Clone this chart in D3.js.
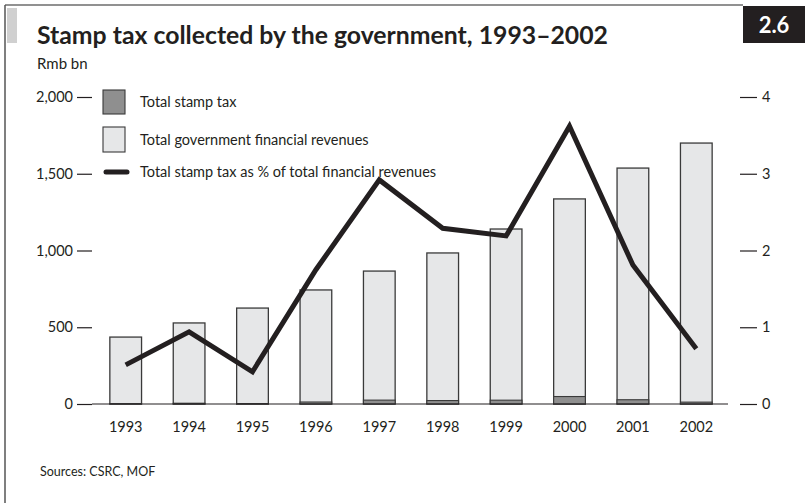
<!DOCTYPE html>
<html>
<head>
<meta charset="utf-8">
<script src="https://cdn.jsdelivr.net/npm/d3@7"></script>
<style>
  html, body { margin: 0; padding: 0; background: #fff; }
  svg { display: block; font-family: Lato, "Open Sans", sans-serif; }
</style>
</head>
<body>
<svg id="chart" width="805" height="503"></svg>
<script>
// Stamp tax and government revenues, Rmb bn
const years = ["1993", "1994", "1995", "1996", "1997", "1998", "1999", "2000", "2001", "2002"];
const totalRevenue = [436, 528, 625, 743, 866, 984, 1140, 1336, 1537, 1700];
const stampTax = [2.2, 5.0, 2.6, 13.0, 25.3, 22.4, 24.9, 48.6, 27.8, 12.2];
const stampSharePct = [0.51, 0.94, 0.42, 1.75, 2.92, 2.29, 2.19, 3.62, 1.81, 0.72];
const leftTicks = [0, 500, 1000, 1500, 2000];
const rightTicks = [0, 1, 2, 3, 4];

const svg = d3.select("#chart");
const ink = "#231f20";

// frame
svg.append("line").attr("x1", 5).attr("x2", 743).attr("y1", 5).attr("y2", 5)
  .attr("stroke", "#6d6d6d").attr("stroke-width", 1.5);
svg.append("line").attr("x1", 5).attr("x2", 5).attr("y1", 5).attr("y2", 503)
  .attr("stroke", "#555").attr("stroke-width", 1.5);
svg.append("rect").attr("x", 7).attr("y", 8).attr("width", 10).attr("height", 35)
  .attr("fill", "#d0d0d0");

// chart number box
svg.append("rect").attr("x", 743).attr("y", 6).attr("width", 62).attr("height", 37).attr("fill", ink);
svg.append("text").attr("x", 774).attr("y", 33).attr("text-anchor", "middle")
  .attr("fill", "#fff").attr("font-weight", 700).attr("font-size", 22).text("2.6");

// titles
svg.append("text").attr("x", 37).attr("y", 44).attr("fill", ink)
  .attr("font-weight", 700).attr("font-size", 25)
  .attr("textLength", 571).attr("lengthAdjust", "spacingAndGlyphs")
  .text("Stamp tax collected by the government, 1993–2002");
svg.append("text").attr("x", 37).attr("y", 69).attr("fill", ink)
  .attr("font-size", 15).text("Rmb bn");

// scales
const x = d3.scaleBand().domain(years).range([94, 728]).paddingInner(0.5).paddingOuter(0.25);
const yL = d3.scaleLinear().domain([0, 2000]).range([404, 97]);
const yR = d3.scaleLinear().domain([0, 4]).range([404, 97]);

// left axis
const axL = svg.append("g").attr("transform", "translate(92,0)")
  .call(d3.axisLeft(yL).tickValues(leftTicks).tickSize(15).tickPadding(4)
    .tickFormat(d3.format(",")));
axL.select(".domain").remove();
axL.selectAll("line").attr("stroke", ink).attr("stroke-width", 1.2);
axL.selectAll("text").attr("font-family", "Lato, sans-serif").attr("font-size", 14.5).attr("fill", ink);

// right axis
const axR = svg.append("g").attr("transform", "translate(740,0)")
  .call(d3.axisRight(yR).tickValues(rightTicks).tickSize(17).tickPadding(5)
    .tickFormat(d3.format("d")));
axR.select(".domain").remove();
axR.selectAll("line").attr("stroke", ink).attr("stroke-width", 1.2);
axR.selectAll("text").attr("font-family", "Lato, sans-serif").attr("font-size", 14.5).attr("fill", ink);

// bars: total revenues
svg.append("g").selectAll("rect").data(years).join("rect")
  .attr("x", d => x(d)).attr("width", x.bandwidth())
  .attr("y", (d, i) => yL(totalRevenue[i]))
  .attr("height", (d, i) => yL(0) - yL(totalRevenue[i]))
  .attr("fill", "#e6e7e8").attr("stroke", "#3a3a3a").attr("stroke-width", 1.3);

// bars: stamp tax
svg.append("g").selectAll("rect").data(years).join("rect")
  .attr("x", d => x(d)).attr("width", x.bandwidth())
  .attr("y", (d, i) => yL(stampTax[i]))
  .attr("height", (d, i) => yL(0) - yL(stampTax[i]))
  .attr("fill", "#8f8f8f").attr("stroke", "#3a3a3a").attr("stroke-width", 1.1);

// baseline
svg.append("line").attr("x1", 92).attr("x2", 728).attr("y1", yL(0)).attr("y2", yL(0))
  .attr("stroke", ink).attr("stroke-width", 1.2);

// x labels
const axB = svg.append("g").attr("transform", `translate(0,${yL(0)})`)
  .call(d3.axisBottom(x).tickSize(0).tickPadding(18));
axB.select(".domain").remove();
axB.selectAll("text").attr("font-family", "Lato, sans-serif").attr("font-size", 14.5).attr("fill", ink);

// share line
const line = d3.line()
  .x((d, i) => x(years[i]) + x.bandwidth() / 2)
  .y(d => yR(d));
svg.append("path").datum(stampSharePct).attr("d", line)
  .attr("fill", "none").attr("stroke", ink).attr("stroke-width", 5)
  .attr("stroke-linejoin", "miter");

// legend
const legend = svg.append("g").attr("transform", "translate(103,0)");
legend.append("rect").attr("x", 0).attr("y", 90).attr("width", 22).attr("height", 24)
  .attr("fill", "#8f8f8f").attr("stroke", "#3a3a3a").attr("stroke-width", 1.1);
legend.append("rect").attr("x", 0).attr("y", 127).attr("width", 22).attr("height", 25)
  .attr("fill", "#e6e7e8").attr("stroke", "#3a3a3a").attr("stroke-width", 1.1);
legend.append("line").attr("x1", 3).attr("x2", 24).attr("y1", 172).attr("y2", 172)
  .attr("stroke", ink).attr("stroke-width", 5).attr("stroke-linecap", "round");
const legendLabels = ["Total stamp tax", "Total government financial revenues", "Total stamp tax as % of total financial revenues"];
const legendY = [107, 145, 177];
legend.selectAll("text.lab").data(legendLabels).join("text").attr("class", "lab")
  .attr("x", 37).attr("y", (d, i) => legendY[i])
  .attr("font-size", 14.5).attr("fill", ink).text(d => d);

// source
svg.append("text").attr("x", 40).attr("y", 476).attr("font-size", 12.5).attr("fill", ink)
  .text("Sources: CSRC, MOF");
</script>
</body>
</html>
